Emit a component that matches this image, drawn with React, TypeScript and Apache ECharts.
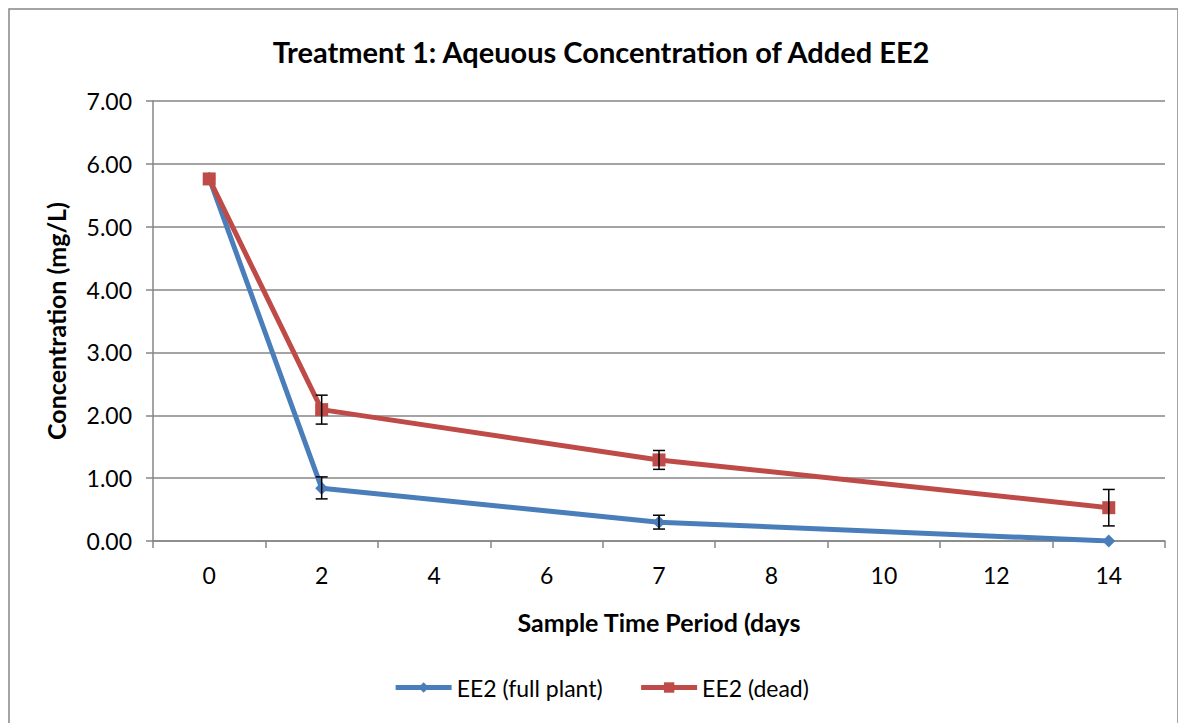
import React, { useEffect, useRef } from "react";
import * as echarts from "echarts";

const categories = ["0", "2", "4", "6", "7", "8", "10", "12", "14"];
const fullPlant = [5.77, 0.84, null, null, 0.3, null, null, null, 0.0];
const dead = [5.76, 2.09, null, null, 1.29, null, null, null, 0.53];
// [categoryIndex, low, high]
const fullPlantErr = [
  [1, 0.67, 1.02],
  [4, 0.19, 0.41],
];
const deadErr = [
  [1, 1.86, 2.32],
  [4, 1.14, 1.44],
  [8, 0.24, 0.82],
];

const FONT = "Lato";

function errRender(params: any, api: any) {
  const x = api.value(0);
  const lo = api.coord([x, api.value(1)]);
  const hi = api.coord([x, api.value(2)]);
  const w = 6;
  const style = { stroke: "#000", lineWidth: 1.5 };
  return {
    type: "group",
    children: [
      { type: "line", shape: { x1: lo[0], y1: lo[1], x2: hi[0], y2: hi[1] }, style },
      { type: "line", shape: { x1: lo[0] - w, y1: lo[1], x2: lo[0] + w, y2: lo[1] }, style },
      { type: "line", shape: { x1: hi[0] - w, y1: hi[1], x2: hi[0] + w, y2: hi[1] }, style },
    ],
  };
}

export default function App() {
  const ref = useRef<HTMLDivElement>(null);
  useEffect(() => {
    const chart = echarts.init(ref.current!, null, { renderer: "svg" });
    chart.setOption({
      animation: false,
      backgroundColor: "#fff",
      graphic: [
        {
          type: "rect",
          shape: { x: 1, y: 1, width: 1169, height: 800 },
          style: { fill: "none", stroke: "#868686", lineWidth: 1.5 },
          silent: true,
        },
      ],
      title: {
        text: "Treatment 1: Aqeuous Concentration of Added EE2",
        left: 588,
        textAlign: "center",
        top: 24,
        textStyle: { fontFamily: FONT, fontWeight: "bold", fontSize: 29, color: "#000" },
      },
      legend: {
        bottom: 27,
        left: "center",
        orient: "horizontal",
        itemWidth: 56,
        itemHeight: 13,
        itemGap: 36,
        lineStyle: { width: 5 },
        textStyle: { fontFamily: FONT, fontSize: 23, color: "#000" },
        data: ["EE2 (full plant)", "EE2 (dead)"],
      },
      grid: { left: 145, right: 29, top: 93, bottom: 190, containLabel: false },
      xAxis: {
        type: "category",
        data: categories,
        boundaryGap: true,
        name: "Sample Time Period (days",
        nameLocation: "middle",
        nameGap: 68,
        nameTextStyle: { fontFamily: FONT, fontWeight: "bold", fontSize: 25, color: "#000" },
        axisLine: { lineStyle: { color: "#868686", width: 1.5 } },
        axisTick: { show: true, length: 7, interval: 0, lineStyle: { color: "#868686", width: 1.5 } },
        axisLabel: { fontFamily: FONT, fontSize: 23, color: "#000", margin: 22, interval: 0 },
        splitLine: { show: false },
      },
      yAxis: {
        type: "value",
        min: 0,
        max: 7,
        interval: 1,
        name: "Concentration (mg/L)",
        nameLocation: "middle",
        nameRotate: 90,
        nameGap: 85,
        nameTextStyle: { fontFamily: FONT, fontWeight: "bold", fontSize: 25, color: "#000" },
        axisLine: { show: true, lineStyle: { color: "#868686", width: 1.5 } },
        axisTick: { show: true, length: 7, lineStyle: { color: "#868686", width: 1.5 } },
        axisLabel: {
          fontFamily: FONT,
          fontSize: 23,
          color: "#000",
          margin: 21,
          formatter: (v: number) => v.toFixed(2),
        },
        splitLine: { show: true, lineStyle: { color: "#868686", width: 1.5 } },
      },
      series: [
        {
          name: "EE2 (full plant)",
          type: "line",
          data: fullPlant,
          connectNulls: true,
          symbol: "diamond",
          symbolSize: 13,
          color: "#4A7EBB",
          lineStyle: { color: "#4A7EBB", width: 5 },
          itemStyle: { color: "#4A7EBB" },
          z: 2,
        },
        {
          name: "EE2 (dead)",
          type: "line",
          data: dead,
          connectNulls: true,
          symbol: "rect",
          symbolSize: 13,
          color: "#BE4B48",
          lineStyle: { color: "#BE4B48", width: 5 },
          itemStyle: { color: "#BE4B48" },
          z: 3,
        },
        {
          name: "errFull",
          type: "custom",
          data: fullPlantErr,
          renderItem: errRender,
          z: 5,
          encode: { x: 0, y: [1, 2] },
        },
        {
          name: "errDead",
          type: "custom",
          data: deadErr,
          renderItem: errRender,
          z: 5,
          encode: { x: 0, y: [1, 2] },
        },
      ],
    });
    return () => chart.dispose();
  }, []);
  return <div ref={ref} style={{ width: 1186, height: 723 }} />;
}
